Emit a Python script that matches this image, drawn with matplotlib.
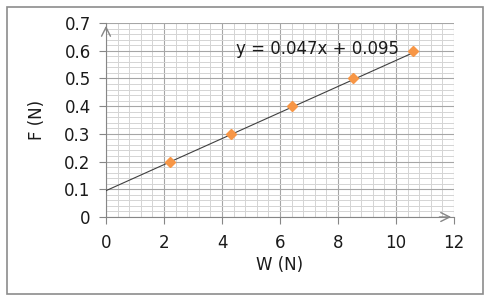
import numpy as np
import matplotlib.pyplot as plt
from matplotlib.patches import Rectangle
from matplotlib.ticker import MultipleLocator

plt.rcParams['font.family'] = ['DejaVu Sans']

# data
weight = [2.2, 4.3, 6.4, 8.5, 10.6]
force = [0.2, 0.3, 0.4, 0.5, 0.6]
slope = 0.047
intercept = 0.095
x_ticks = [0, 2, 4, 6, 8, 10, 12]
y_ticks = [0, 0.1, 0.2, 0.3, 0.4, 0.5, 0.6, 0.7]

fig = plt.figure(figsize=(4.91, 3.04), dpi=100)
fig.patches.append(Rectangle((7 / 491, 10 / 304), 476 / 491, 287 / 304,
                             transform=fig.transFigure, fill=False,
                             edgecolor='#8c8c8c', linewidth=1.2))

ax = fig.add_axes([106 / 491, 87 / 304, 348 / 491, 194 / 304])
ax.set_xlim(0, 12)
ax.set_ylim(0, 0.7)
ax.set_xticks(x_ticks)
ax.set_yticks(y_ticks)
ax.set_yticklabels(['0' if v == 0 else f'{v:.1f}' for v in y_ticks])
ax.xaxis.set_minor_locator(MultipleLocator(0.4))
ax.yaxis.set_minor_locator(MultipleLocator(0.02))
ax.grid(which='major', color='#a6a6a6', linewidth=0.8)
ax.grid(which='minor', color='#d4d4d4', linewidth=0.7)
ax.set_axisbelow(True)

for s in ['top', 'right']:
    ax.spines[s].set_visible(False)
for s in ['left', 'bottom']:
    ax.spines[s].set_color('#868686')
ax.tick_params(which='major', direction='out', length=5, color='#868686',
               labelsize=12, labelcolor='#1a1a1a')
ax.tick_params(which='minor', length=0)
ax.tick_params(axis='y', pad=6)
ax.tick_params(axis='x', pad=7)

# axis arrows
ax.annotate('', xy=(1.0, 0), xytext=(0.95, 0), xycoords='axes fraction',
            arrowprops=dict(arrowstyle='->', color='#868686', lw=1,
                            mutation_scale=16))
ax.annotate('', xy=(0, 1.0), xytext=(0, 0.95), xycoords='axes fraction',
            arrowprops=dict(arrowstyle='->', color='#868686', lw=1,
                            mutation_scale=16))

# trendline
xs = np.array([0, weight[-1]])
ax.plot(xs, slope * xs + intercept, color='#404040', linewidth=0.8, zorder=3)
ax.plot(weight, force, linestyle='none', marker='D', markersize=5.5,
        color='#f79646', zorder=4)
ax.text(4.5, 0.606, f'y = {slope}x + {intercept}', fontsize=12,
        color='#1a1a1a', va='center', ha='left', zorder=5)

ax.set_xlabel('W (N)', fontsize=12, color='#1a1a1a', labelpad=3)
ax.set_ylabel('F (N)', fontsize=12, color='#1a1a1a', labelpad=13)

fig.savefig('out.png', dpi=100)
